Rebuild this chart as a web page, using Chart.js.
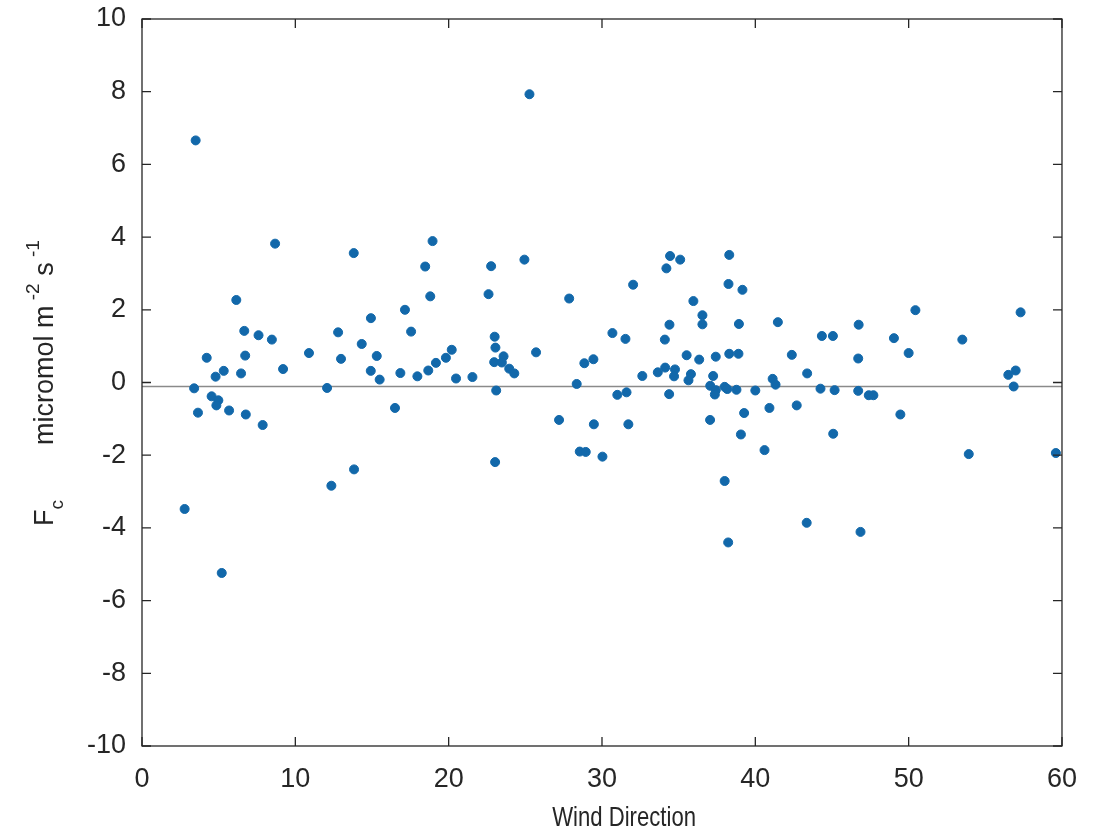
<!DOCTYPE html>
<html>
<head>
<meta charset="utf-8">
<script src="https://cdn.jsdelivr.net/npm/chart.js@4.4.1/dist/chart.umd.min.js"></script>
<style>
  html, body { margin: 0; padding: 0; background: #fff; }
  #wrap { width: 1094px; height: 831px; position: relative; }
</style>
</head>
<body>
<div id="wrap"><canvas id="fc_chart"></canvas></div>
<script>
// wind direction (x) and CO2 flux Fc (y)
var windDirection = [
  2.78, 3.5, 3.4, 3.65, 4.22, 4.54, 4.8, 4.98, 4.85, 5.2,
  5.33, 5.68, 6.15, 6.46, 6.67, 6.73, 6.77, 7.6, 7.87, 8.47,
  8.68, 9.2, 10.89, 12.07, 12.35, 12.79, 12.98, 13.81, 13.83, 14.33,
  14.93, 14.92, 15.31, 15.5, 16.5, 16.85, 17.15, 17.55, 17.96, 18.47,
  18.67, 18.8, 18.95, 19.17, 19.82, 20.2, 20.48, 21.55, 22.6, 22.77,
  23.0, 23.05, 22.97, 23.58, 23.47, 23.95, 24.28, 23.1, 23.03, 24.94,
  25.27, 25.7, 27.2, 27.86, 28.35, 28.55, 28.85, 28.94, 29.44, 29.47,
  30.03, 30.68, 31.0, 31.53, 31.6, 31.72, 32.03, 32.63, 33.64, 34.12,
  34.1, 34.2, 34.44, 35.1, 34.4, 34.38, 34.76, 34.7, 35.52, 35.8,
  35.64, 35.96, 36.34, 36.55, 36.55, 37.05, 37.25, 37.06, 37.42, 37.36,
  37.42, 38.0, 38.17, 38.3, 38.3, 38.25, 38.0, 38.23, 38.77, 38.9,
  38.93, 39.16, 39.27, 39.06, 40.0, 40.6, 40.92, 41.13, 41.32, 41.47,
  42.38, 42.7, 43.38, 43.35, 44.25, 44.34, 45.06, 45.17, 45.08, 46.71,
  46.74, 46.71, 46.86, 47.4, 47.7, 49.04, 49.46, 50.0, 50.44, 53.5,
  53.92, 56.5, 56.98, 56.85, 57.3, 59.6
];
var fluxFc = [
  -3.48, 6.66, -0.16, -0.83, 0.68, -0.38, 0.16, -0.49, -0.63, -5.24,
  0.32, -0.77, 2.27, 0.25, 1.42, 0.74, -0.88, 1.30, -1.17, 1.18,
  3.82, 0.37, 0.81, -0.15, -2.84, 1.38, 0.65, 3.56, -2.39, 1.06,
  1.77, 0.32, 0.73, 0.08, -0.70, 0.26, 2.0, 1.40, 0.17, 3.19,
  0.33, 2.37, 3.89, 0.54, 0.68, 0.90, 0.11, 0.15, 2.43, 3.20,
  1.26, 0.96, 0.56, 0.72, 0.55, 0.38, 0.25, -0.22, -2.19, 3.38,
  7.93, 0.83, -1.03, 2.31, -0.04, -1.90, 0.53, -1.91, 0.64, -1.15,
  -2.04, 1.36, -0.34, 1.20, -0.27, -1.15, 2.69, 0.18, 0.28, 0.41,
  1.18, 3.14, 3.48, 3.38, 1.59, -0.32, 0.36, 0.17, 0.75, 0.23,
  0.06, 2.24, 0.63, 1.85, 1.60, -1.03, 0.18, -0.09, -0.21, -0.33,
  0.71, -0.12, -0.18, 0.79, 3.51, 2.71, -2.71, -4.40, -0.20, 0.79,
  1.61, 2.55, -0.84, -1.43, -0.22, -1.86, -0.70, 0.10, -0.06, 1.66,
  0.76, -0.63, 0.25, -3.86, -0.17, 1.28, 1.28, -0.21, -1.41, 0.66,
  1.59, -0.23, -4.11, -0.35, -0.35, 1.22, -0.88, 0.81, 1.99, 1.18,
  -1.97, 0.21, 0.33, -0.11, 1.93, -1.94
];
// horizontal reference line (mean Fc)
var refLineX = [0, 60];
var refLineY = [-0.11, -0.11];

var axisColor = '#262626';
var dotColor = 'rgb(18,104,170)';
var fontFam = '"Liberation Sans", Arial, sans-serif';

var scatterPoints = windDirection.map(function (x, i) { return {x: x, y: fluxFc[i]}; });
var refPoints = refLineX.map(function (x, i) { return {x: x, y: refLineY[i]}; });

// MATLAB style box with inward ticks, axis labels (y label has sub/superscripts)
var matlabAxes = {
  id: 'matlabAxes',
  afterDraw: function (chart) {
    var ctx = chart.ctx;
    var a = chart.chartArea;
    var xs = chart.scales.x, ys = chart.scales.y;
    var tl = 9;
    ctx.save();
    ctx.strokeStyle = axisColor;
    ctx.lineWidth = 1.3;
    ctx.strokeRect(a.left, a.top, a.right - a.left, a.bottom - a.top);
    ctx.beginPath();
    xs.ticks.forEach(function (t) {
      var px = xs.getPixelForValue(t.value);
      ctx.moveTo(px, a.bottom); ctx.lineTo(px, a.bottom - tl);
      ctx.moveTo(px, a.top); ctx.lineTo(px, a.top + tl);
    });
    ys.ticks.forEach(function (t) {
      var py = ys.getPixelForValue(t.value);
      ctx.moveTo(a.left, py); ctx.lineTo(a.left + tl, py);
      ctx.moveTo(a.right, py); ctx.lineTo(a.right - tl, py);
    });
    ctx.stroke();

    ctx.fillStyle = axisColor;
    ctx.textBaseline = 'alphabetic';

    // x label, narrow like the original
    ctx.save();
    ctx.font = '28px ' + fontFam;
    ctx.textAlign = 'right';
    ctx.translate(696, 826);
    ctx.scale(0.79, 1);
    ctx.fillText('Wind Direction', 0, 0);
    ctx.restore();

    // y label: F_c micromol m^-2 s^-1
    var big = '27px ' + fontFam;
    var small = '19px ' + fontFam;
    var parts = [
      {t: 'F', f: big, dy: 0, y0: 526},
      {t: 'c', f: small, dy: 10, y0: null},
      {t: 'micromol m', f: big, dy: 0, y0: 445},
      {t: ' -2', f: small, dy: -14, y0: null},
      {t: ' s', f: big, dy: 0, y0: null},
      {t: ' -1', f: small, dy: -14, y0: null}
    ];
    ctx.textAlign = 'left';
    ctx.translate(53, 0);
    ctx.rotate(-Math.PI / 2);
    var pos = 0;
    parts.forEach(function (p) {
      ctx.font = p.f;
      if (p.y0 !== null) pos = -p.y0;
      ctx.fillText(p.t, pos, p.dy);
      pos += ctx.measureText(p.t).width;
    });
    ctx.restore();
  }
};

var ctx = document.getElementById('fc_chart').getContext('2d');
var chart = new Chart(ctx, {
  type: 'scatter',
  data: {
    datasets: [{
      label: 'Fc',
      data: scatterPoints,
      backgroundColor: dotColor,
      borderColor: dotColor,
      pointRadius: 4.5,
      pointBorderWidth: 1,
      pointHoverRadius: 4.5,
      order: 1
    }, {
      type: 'line',
      label: 'mean',
      data: refPoints,
      borderColor: '#8a8a8a',
      borderWidth: 1.5,
      pointRadius: 0,
      fill: false,
      order: 2
    }]
  },
  options: {
    responsive: true,
    maintainAspectRatio: false,
    animation: false,
    layout: {padding: {top: 19, right: 32, bottom: 0, left: 0}},
    plugins: {
      legend: {display: false},
      tooltip: {enabled: false}
    },
    scales: {
      x: {
        type: 'linear',
        min: 0,
        max: 60,
        afterFit: function (s) { s.height = 85; },
        grid: {display: false, drawTicks: false},
        border: {display: false},
        ticks: {
          stepSize: 10,
          padding: 17,
          color: axisColor,
          font: {family: fontFam, size: 27},
          maxRotation: 0
        }
      },
      y: {
        min: -10,
        max: 10,
        afterFit: function (s) { s.width = 142; s.paddingTop = 0; s.paddingBottom = 0; },
        grid: {display: false, drawTicks: false},
        border: {display: false},
        ticks: {
          stepSize: 2,
          padding: 16,
          color: axisColor,
          font: {family: fontFam, size: 27}
        }
      }
    }
  },
  plugins: [matlabAxes]
});
</script>
</body>
</html>
